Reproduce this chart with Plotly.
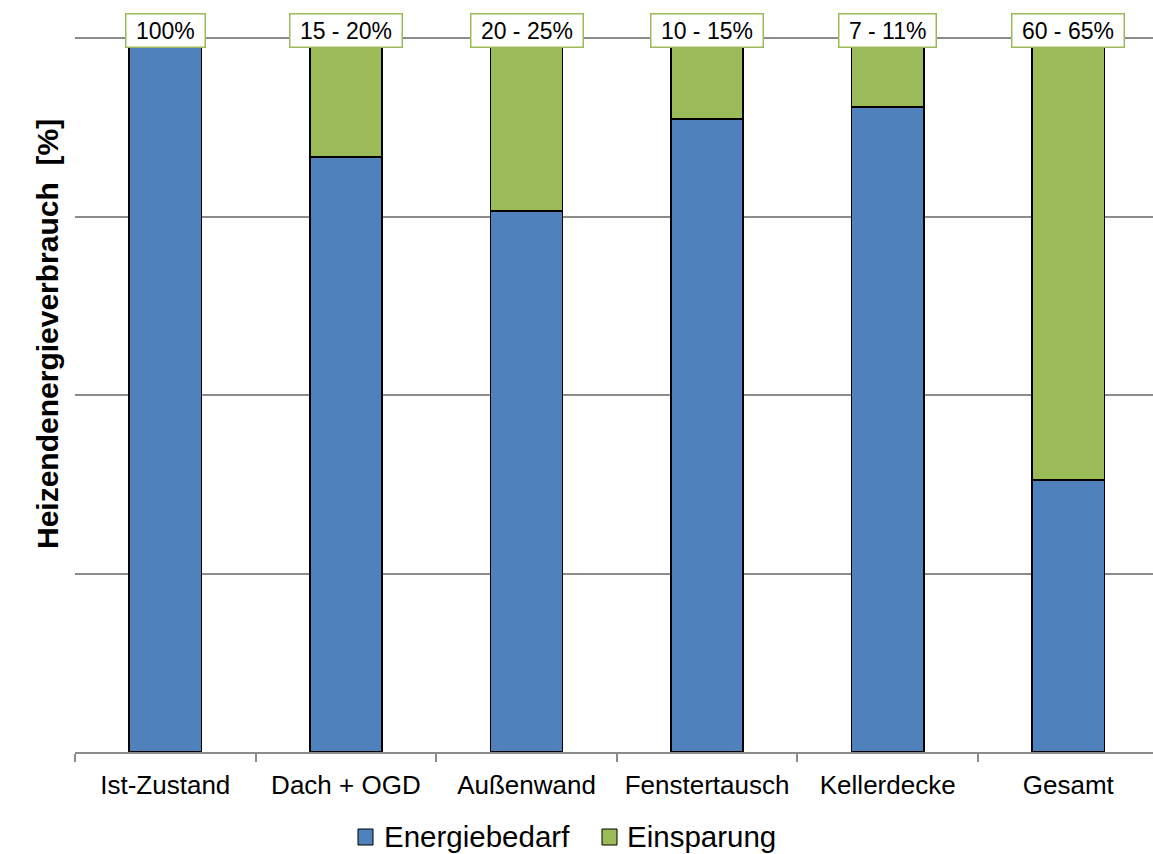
import plotly.graph_objects as go

categories = ["Ist-Zustand", "Dach + OGD", "Außenwand", "Fenstertausch", "Kellerdecke", "Gesamt"]
energiebedarf = [100, 83.4, 75.8, 88.7, 90.4, 38.1]
einsparung = [None, 16.6, 24.2, 11.3, 9.6, 61.9]
labels = ["100%", "15 - 20%", "20 - 25%", "10 - 15%", "7 - 11%", "60 - 65%"]
series_names = ["Energiebedarf", "Einsparung"]
y_ticks = [0, 25, 50, 75, 100]

BLUE = "#4F81BD"
GREEN = "#9BBB59"
GRID = "#8C8C8C"
FONT = "Liberation Sans, Arial, sans-serif"

W, H = 1153, 854
ML, MR, MT, MB = 75, 0, 37, 102
PW, PH = W - ML - MR, H - MT - MB


def px(x):
    return (x - ML) / PW


def py(y):
    return (H - MB - y) / PH


fig = go.Figure()
fig.add_trace(go.Bar(x=categories, y=energiebedarf, name=series_names[0], showlegend=False,
                     marker=dict(color=BLUE, line=dict(color="black", width=1.5))))
fig.add_trace(go.Bar(x=categories, y=einsparung, name=series_names[1], showlegend=False,
                     marker=dict(color=GREEN, line=dict(color="black", width=1.5))))

for cat, lab in zip(categories, labels):
    fig.add_annotation(x=cat, y=100, xref="x", yref="y", text="\u00a0" + lab + "\u00a0",
                       showarrow=False, yanchor="middle", yshift=8,
                       font=dict(family=FONT, size=23, color="black"),
                       bgcolor="white", bordercolor=GREEN, borderwidth=1.5, borderpad=3)

fig.add_annotation(x=px(47), y=py(334), xref="paper", yref="paper",
                   text="<b>Heizendenergieverbrauch  [%]</b>", textangle=-90,
                   showarrow=False, xanchor="center", yanchor="middle",
                   font=dict(family=FONT, size=30, color="black"))

# manual legend
legend_items = [(series_names[0], BLUE, 358, 382), (series_names[1], GREEN, 602, 625)]
for name, col, sx, tx in legend_items:
    fig.add_shape(type="rect", xref="paper", yref="paper",
                  x0=px(sx), x1=px(sx + 15), y0=py(845), y1=py(829),
                  fillcolor=col, line=dict(color="black", width=1))
    fig.add_annotation(x=px(tx), y=py(836), xref="paper", yref="paper", text=name,
                       showarrow=False, xanchor="left", yanchor="middle",
                       font=dict(family=FONT, size=29.5, color="black"))

fig.update_layout(
    barmode="stack", bargap=0.6,
    width=W, height=H,
    margin=dict(l=ML, r=MR, t=MT, b=MB, autoexpand=False),
    paper_bgcolor="white", plot_bgcolor="white",
    font=dict(family=FONT, color="black"),
    showlegend=False,
    xaxis=dict(range=[-0.5, -0.5 + PW / 180.6], showline=True, linecolor=GRID, linewidth=1.5,
               ticks="outside", tickson="boundaries", ticklen=8, tickcolor=GRID, tickwidth=1.5,
               tickfont=dict(family=FONT, size=26, color="black"), showgrid=False,
               ticklabelstandoff=9, automargin=False),
    yaxis=dict(range=[0, 100.2], tickvals=y_ticks, showticklabels=False, showgrid=True,
               gridcolor=GRID, gridwidth=1.5, zeroline=False, showline=False, automargin=False),
)

fig.write_html("out.html")
